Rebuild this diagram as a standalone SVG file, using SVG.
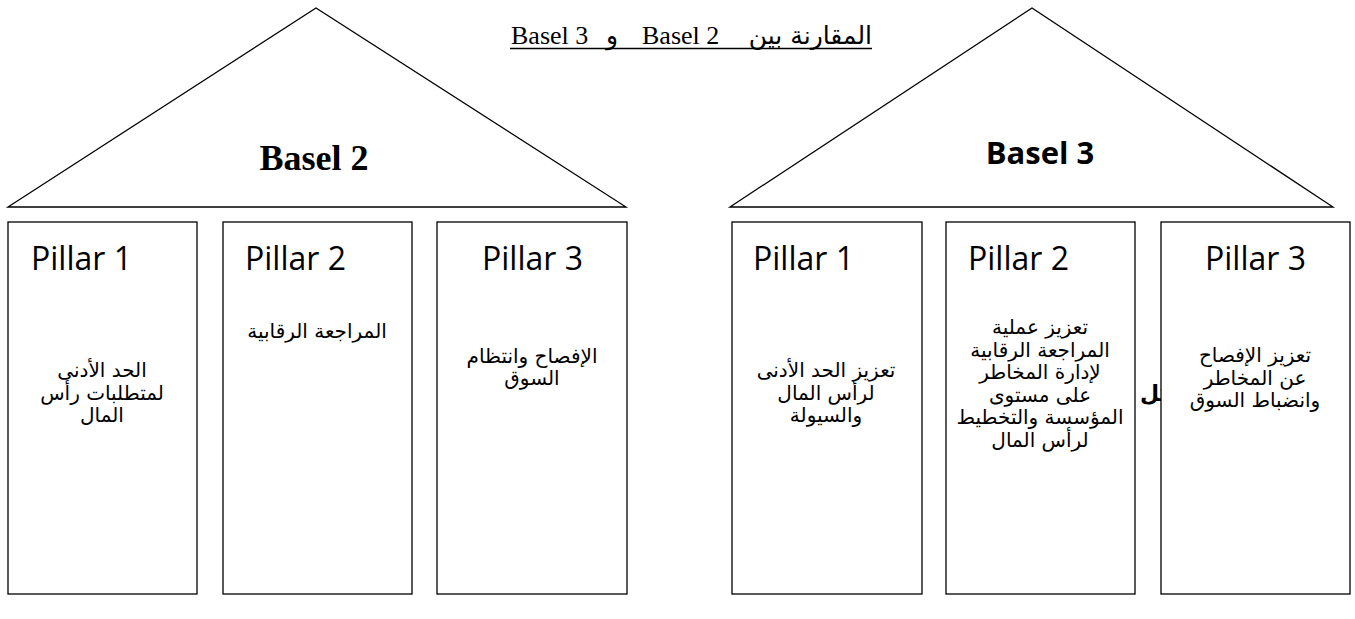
<svg xmlns="http://www.w3.org/2000/svg" width="1355" height="619" viewBox="0 0 1355 619">
<style>
.roof{fill:#fff;stroke:#000;stroke-width:1.3}
.box{fill:#fff;stroke:#000;stroke-width:1.3}
.pil{font-family:"Open Sans","Lato",sans-serif;font-size:32px;fill:#000}
.ar{font-family:"DejaVu Sans","Liberation Sans",sans-serif;font-size:20px;fill:#000;text-anchor:middle;direction:rtl}
.tl{font-family:"Liberation Serif",serif;font-size:26px;fill:#000}
.ta{font-family:"DejaVu Sans","Liberation Sans",sans-serif;font-size:25px;fill:#000}
</style>
<rect width="1355" height="619" fill="#fff"/>
<g id="title">
<text class="tl" x="511" y="44">Basel 3</text>
<text class="ta" x="612" y="44" text-anchor="middle">و</text>
<text class="tl" x="642" y="44">Basel 2</text>
<text class="ta" x="872" y="44" text-anchor="end">المقارنة بين</text>
<line x1="510" y1="48.5" x2="872" y2="48.5" stroke="#000" stroke-width="1.3"/>
</g>
<g id="basel2-roof">
<polygon class="roof" points="8,207 316,8 626,207"/>
<text x="314" y="170" text-anchor="middle" font-family="Liberation Serif, serif" font-weight="bold" font-size="36">Basel 2</text>
</g>
<g id="basel3-roof">
<polygon class="roof" points="730,207 1032,8 1333,207"/>
<text x="1040" y="164" text-anchor="middle" font-family="Open Sans, Lato, sans-serif" font-weight="bold" font-size="31">Basel 3</text>
</g>
<g id="b2-pillar1">
<rect class="box" x="8" y="222" width="189" height="372"/>
<text class="pil" x="31" y="270">Pillar 1</text>
<text class="ar" x="102" y="377">الحد الأدنى</text>
<text class="ar" x="102" y="400">لمتطلبات رأس</text>
<text class="ar" x="102" y="422">المال</text>
</g>
<g id="b2-pillar2">
<rect class="box" x="223" y="222" width="189" height="372"/>
<text class="pil" x="245" y="270">Pillar 2</text>
<text class="ar" x="317" y="338">المراجعة الرقابية</text>
</g>
<g id="b2-pillar3">
<rect class="box" x="437" y="222" width="190" height="372"/>
<text class="pil" x="482" y="270">Pillar 3</text>
<text class="ar" x="532" y="363">الإفصاح وانتظام</text>
<text class="ar" x="532" y="385">السوق</text>
</g>
<g id="b3-pillar1">
<rect class="box" x="732" y="222" width="190" height="372"/>
<text class="pil" x="753" y="270">Pillar 1</text>
<text class="ar" x="826" y="377">تعزيز الحد الأدنى</text>
<text class="ar" x="826" y="400">لرأس المال</text>
<text class="ar" x="826" y="422">والسيولة</text>
</g>
<g id="b3-pillar2">
<rect class="box" x="946" y="222" width="189" height="372"/>
<text class="pil" x="968" y="270">Pillar 2</text>
<text class="ar" x="1040" y="334">تعزيز عملية</text>
<text class="ar" x="1040" y="357">المراجعة الرقابية</text>
<text class="ar" x="1040" y="379">لإدارة المخاطر</text>
<text class="ar" x="1040" y="402">على مستوى</text>
<text class="ar" x="1040" y="424">المؤسسة والتخطيط</text>
<text class="ar" x="1040" y="447">لرأس المال</text>
</g>
<g id="hidden-label">
<text x="1140" y="401" text-anchor="start" font-family="DejaVu Sans, sans-serif" font-weight="bold" font-size="22">كل</text>
</g>
<g id="b3-pillar3">
<rect class="box" x="1161" y="222" width="189" height="372"/>
<text class="pil" x="1205" y="270">Pillar 3</text>
<text class="ar" x="1255" y="362">تعزيز الإفصاح</text>
<text class="ar" x="1255" y="385">عن المخاطر</text>
<text class="ar" x="1255" y="407">وانضباط السوق</text>
</g>
</svg>
